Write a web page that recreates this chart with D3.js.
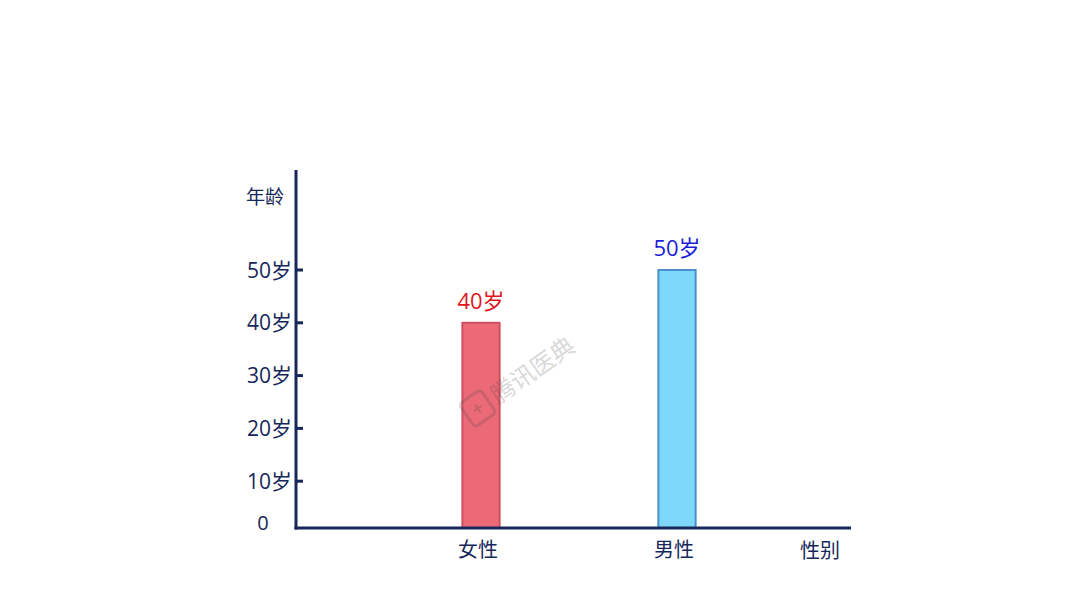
<!DOCTYPE html>
<html>
<head>
<meta charset="utf-8">
<script src="https://cdn.jsdelivr.net/npm/d3@7"></script>
<style>
  body { margin: 0; background: #fff; }
  svg { display: block; font-family: "Open Sans", "Noto Sans CJK SC", sans-serif; }
</style>
</head>
<body>
<svg id="chart" width="1080" height="608"></svg>
<script>
// data
const categories = ['女性', '男性'];
const ages = [40, 50];
const valueLabels = ['40岁', '50岁'];
const yTicks = [10, 20, 30, 40, 50];
const yTickLabels = ['10岁', '20岁', '30岁', '40岁', '50岁'];

const navy = '#17275a';
const fills = ['#ec6a78', '#7dd8fb'];
const strokes = ['#d04f5e', '#4a8fca'];
const labelColors = ['#e0161e', '#1c1ed8'];

const svg = d3.select('#chart');

const axisX = 296, axisY = 528;

const y = d3.scaleLinear().domain([0, 50]).range([534, 270]);
// outer padding = half the inner one keeps the bar centres on the step grid
const x = d3.scaleBand().domain(categories).range([383, 775])
  .paddingInner(0.81).paddingOuter(0.405);

// bars
svg.append('g').selectAll('rect')
  .data(ages)
  .join('rect')
  .attr('x', (d, i) => x(categories[i]))
  .attr('y', d => y(d))
  .attr('width', x.bandwidth())
  .attr('height', d => axisY - y(d))
  .attr('fill', (d, i) => fills[i])
  .attr('stroke', (d, i) => strokes[i])
  .attr('stroke-width', 2);

// watermark, sits over the bar like in the picture
const wm = svg.append('g')
  .attr('transform', 'translate(521,378) rotate(-35)')
  .attr('opacity', 0.2);
wm.append('rect').attr('x', -66).attr('y', -14).attr('width', 26).attr('height', 28)
  .attr('rx', 4).attr('fill', 'none').attr('stroke', '#444').attr('stroke-width', 3);
wm.append('text').attr('x', -53).attr('y', 7).attr('text-anchor', 'middle')
  .attr('font-size', 20).attr('font-weight', 'bold').attr('fill', '#444').text('+');
wm.append('text').attr('x', -34).attr('y', 9).attr('font-size', 24).attr('fill', '#444')
  .attr('font-family', 'Noto Sans CJK SC').text('腾讯医典');

// value labels
svg.append('g').selectAll('text')
  .data(ages)
  .join('text')
  .attr('x', (d, i) => x(categories[i]) + x.bandwidth() / 2)
  .attr('y', d => y(d) - 14)
  .attr('text-anchor', 'middle')
  .attr('font-size', 22)
  .attr('fill', (d, i) => labelColors[i])
  .text((d, i) => valueLabels[i]);

// y axis
svg.append('line')
  .attr('x1', axisX).attr('x2', axisX)
  .attr('y1', 170).attr('y2', axisY + 1.5)
  .attr('stroke', navy).attr('stroke-width', 3);

const ticks = svg.append('g');
ticks.selectAll('line')
  .data(yTicks)
  .join('line')
  .attr('x1', axisX).attr('x2', axisX + 7)
  .attr('y1', d => y(d)).attr('y2', d => y(d))
  .attr('stroke', navy).attr('stroke-width', 3);
ticks.selectAll('text')
  .data(yTicks)
  .join('text')
  .attr('x', axisX - 4)
  .attr('y', d => y(d))
  .attr('dy', '0.36em')
  .attr('text-anchor', 'end')
  .attr('font-size', 21)
  .attr('fill', navy)
  .text((d, i) => yTickLabels[i]);

svg.append('text')
  .attr('x', 263).attr('y', 523)
  .attr('dy', '0.36em')
  .attr('text-anchor', 'middle')
  .attr('font-size', 20)
  .attr('fill', navy)
  .text('0');

svg.append('text')
  .attr('x', 265).attr('y', 204)
  .attr('text-anchor', 'middle')
  .attr('font-size', 19)
  .attr('fill', navy)
  .text('年龄');

// x axis
svg.append('line')
  .attr('x1', axisX - 1.5).attr('x2', 851)
  .attr('y1', axisY).attr('y2', axisY)
  .attr('stroke', navy).attr('stroke-width', 3);

svg.append('g').selectAll('text')
  .data(categories)
  .join('text')
  .attr('x', d => x(d) + x.bandwidth() / 2 - 3)
  .attr('y', 557)
  .attr('text-anchor', 'middle')
  .attr('font-size', 20)
  .attr('fill', navy)
  .text(d => d);

svg.append('text')
  .attr('x', 820).attr('y', 558)
  .attr('text-anchor', 'middle')
  .attr('font-size', 20)
  .attr('fill', navy)
  .text('性别');
</script>
</body>
</html>
